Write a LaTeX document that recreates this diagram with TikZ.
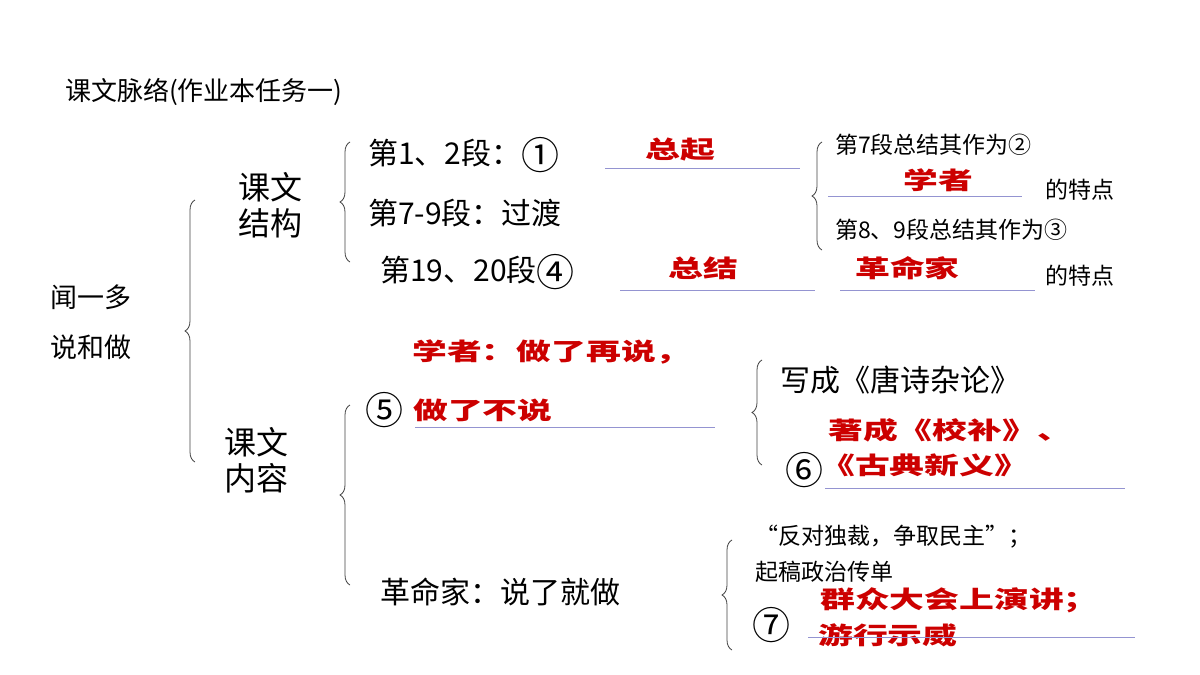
\documentclass[tikz,border=0pt]{standalone}
\usepackage{fontspec}
\setmainfont{Noto Sans CJK SC}
\usetikzlibrary{decorations.pathreplacing}
\newcommand{\cn}[1]{{\fontsize{38}{38}\selectfont\raisebox{-0.12em}{#1}}}
\begin{document}
\begin{tikzpicture}[x=1pt,y=-1pt,
  br/.style={decorate,decoration={brace,amplitude=10pt},draw=black!75,line width=0.8pt},
  t/.style={anchor=west,inner sep=0pt,font=\fontsize{30}{34}\selectfont},
  s/.style={anchor=west,inner sep=0pt,font=\fontsize{23}{26}\selectfont},
  r/.style={anchor=west,inner sep=0pt,text=red!80!black,font=\fontsize{24}{28}\selectfont\bfseries,transform shape,xscale=1.45},
  ln/.style={draw=blue!40!gray!60,line width=0.6pt}]
\useasboundingbox (0,0) rectangle (1200,675);
\node[anchor=west,inner sep=0pt,font=\fontsize{26}{30}\selectfont] (title) at (65,92) {课文脉络(作业本任务一)};
\node[anchor=west,inner sep=0pt,align=left,font=\fontsize{27}{50}\selectfont] (wen) at (50,322) {闻一多\\说和做};
\draw[br] (195,462) -- (195,200);
\node[anchor=west,inner sep=0pt,align=left,font=\fontsize{32}{36}\selectfont] (jg) at (238,205) {课文\\结构};
\draw[br] (350,262) -- (350,142);
\node[t] (a1) at (368,155) {第1、2段：\cn{①}};
\draw[ln] (605,168) -- (800,168);
\node[r] at (645,150) {总起};
\node[t] (a2) at (368,213) {第7-9段：过渡};
\node[t] (a3) at (380,272) {第19、20段\cn{④}};
\draw[ln] (620,290) -- (815,290);
\node[r] at (668,268) {总结};
\draw[ln] (840,290) -- (1035,290);
\node[r] at (855,268) {革命家};
\draw[br] (822,250) -- (822,142);
\node[s] at (835,145) {第7段总结其作为②};
\draw[ln] (828,196) -- (1022,196);
\node[r] at (903,180) {学者};
\node[s] at (1045,190) {的特点};
\node[s] at (835,230) {第8、9段总结其作为③};
\node[s] at (1045,276) {的特点};
\node[anchor=west,inner sep=0pt,align=left,font=\fontsize{32}{36}\selectfont] (nr) at (224,460) {课文\\内容};
\draw[br] (350,585) -- (350,405);
\node[r] at (412,352) {学者：做了再说，};
\node[t] at (365,410) {\cn{⑤}};
\node[r] at (413,410) {做了不说};
\draw[ln] (415,427) -- (715,427);
\draw[br] (762,465) -- (762,360);
\node[t] at (780,380) {写成《唐诗杂论》};
\node[r] at (828,430) {著成《校补》、};
\node[t] at (785,470) {\cn{⑥}};
\node[r] at (820,465) {《古典新义》};
\draw[ln] (825,488) -- (1125,488);
\node[t] at (380,592) {革命家：说了就做};
\draw[br] (732,650) -- (732,540);
\node[s] at (755,537) {“反对独裁，争取民主”；};
\node[s] at (755,572) {起稿政治传单};
\node[r] at (820,600) {群众大会上演讲；};
\node[t] at (752,625) {\cn{⑦}};
\node[r] at (818,635) {游行示威};
\draw[ln] (808,637) -- (1135,637);
\end{tikzpicture}
\end{document}
